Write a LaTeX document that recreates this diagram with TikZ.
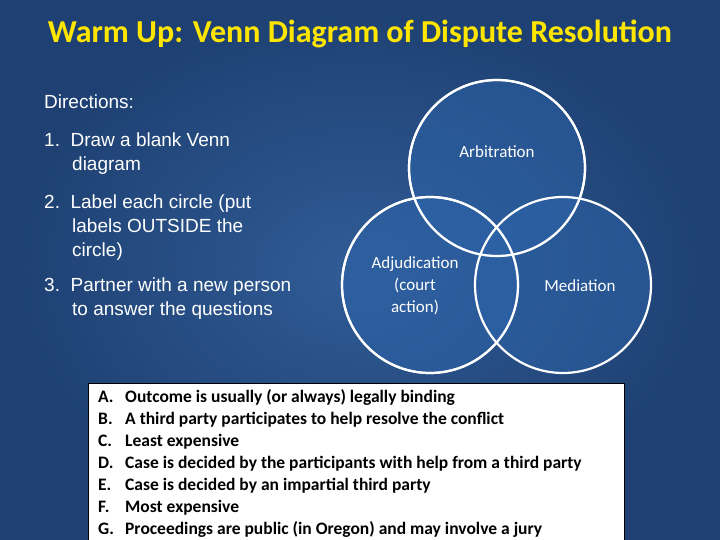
\documentclass[tikz,border=0pt]{standalone}
\usepackage{fontspec}
\setmainfont{Carlito}
\newfontfamily\arialf{Liberation Sans}
\definecolor{cfill}{RGB}{45,100,170}
\begin{document}
\begin{tikzpicture}[x=1pt,y=-1pt,
  vc/.style={circle,draw=white,line width=2.2pt,fill=cfill,fill opacity=0.5,text opacity=1,minimum size=176pt,inner sep=0pt},
  lab/.style={text=white,font=\fontsize{17}{22}\selectfont,align=center},
  dir/.style={text=white,font=\arialf\fontsize{19}{24}\selectfont,anchor=north west,align=left,inner sep=0pt}]
\useasboundingbox (0,0) rectangle (720,540);
\shade[inner color={rgb,255:red,48;green,92;blue,150},outer color={rgb,255:red,30;green,64;blue,114}] (0,0) rectangle (720,540);
\node[text={rgb,255:red,255;green,230;blue,0},font=\bfseries\fontsize{32}{36}\selectfont] (title) at (360,34) {Warm Up: Venn Diagram of Dispute Resolution};
\node[dir] (d0) at (44,95) {Directions:};
\node[dir] (d1) at (44,133) {1.\ \ Draw a blank Venn\\\hspace*{28pt}diagram};
\node[dir] (d2) at (44,195) {2.\ \ Label each circle (put\\\hspace*{28pt}labels OUTSIDE the\\\hspace*{28pt}circle)};
\node[dir] (d3) at (44,278) {3.\ \ Partner with a new person\\\hspace*{28pt}to answer the questions};
\node[vc] (arb) at (497,168) {};
\node[vc] (adj) at (430,285) {};
\node[vc] (med) at (563,285) {};
\draw[white,line width=2.2pt] (497,168) circle (88) (430,285) circle (88);
\node[lab] (arbl) at (497,152) {Arbitration};
\node[lab] (adjl) at (415,286) {Adjudication\\(court\\action)};
\node[lab] (medl) at (580,286) {Mediation};
\node[draw=black,fill=white,line width=0.8pt,anchor=north west,minimum width=536pt,minimum height=160pt,inner sep=0pt] (box) at (88,383) {};
\node[anchor=north west,align=left,font=\bfseries\fontsize{17.5}{22}\selectfont,inner sep=0pt] (items) at (98,389) {%
\makebox[27pt][l]{A.}Outcome is usually (or always) legally binding\\
\makebox[27pt][l]{B.}A third party participates to help resolve the conflict\\
\makebox[27pt][l]{C.}Least expensive\\
\makebox[27pt][l]{D.}Case is decided by the participants with help from a third party\\
\makebox[27pt][l]{E.}Case is decided by an impartial third party\\
\makebox[27pt][l]{F.}Most expensive\\
\makebox[27pt][l]{G.}Proceedings are public (in Oregon) and may involve a jury};
\end{tikzpicture}
\end{document}
